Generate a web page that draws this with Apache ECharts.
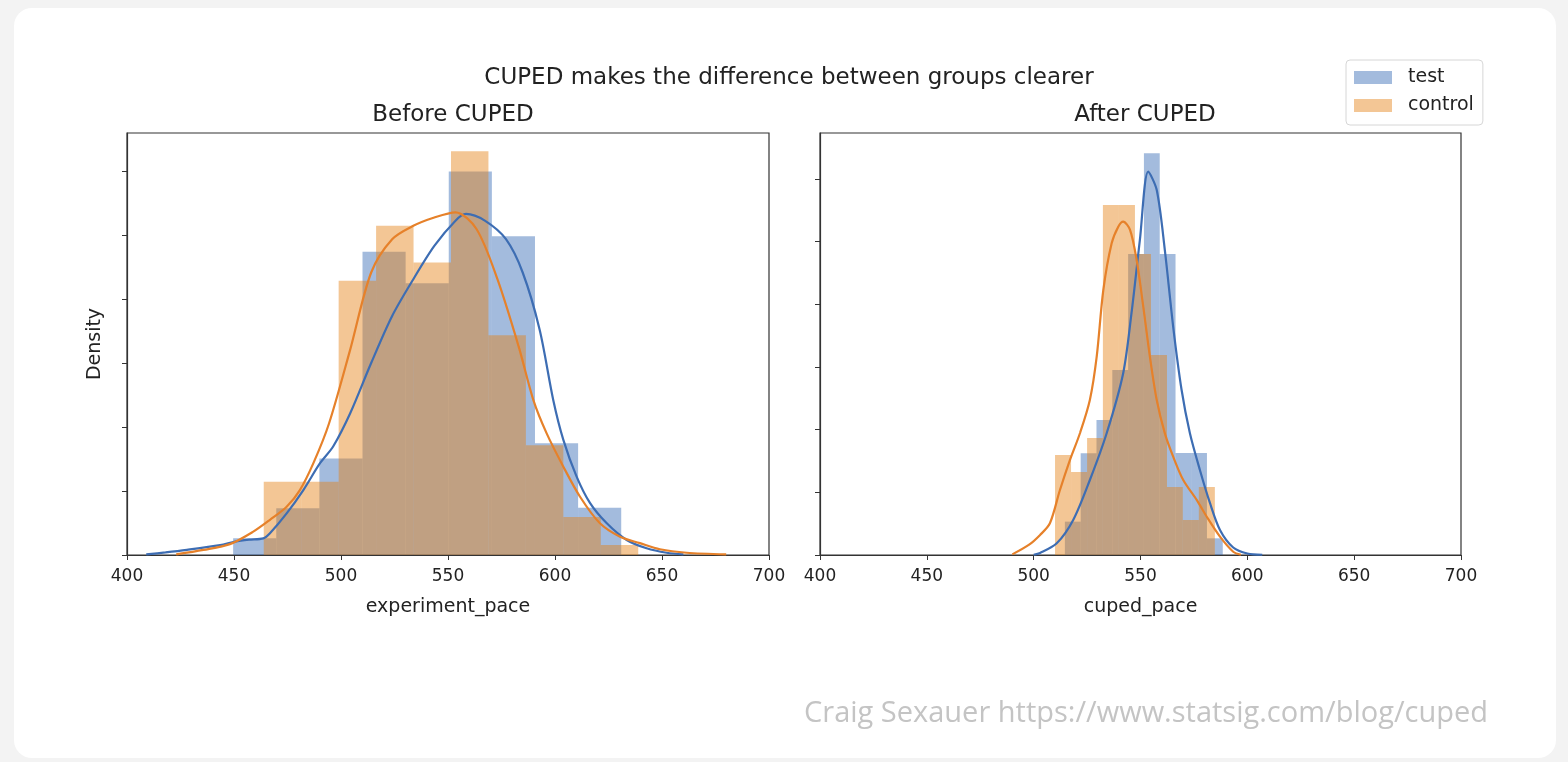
<!DOCTYPE html>
<html>
<head>
<meta charset="utf-8">
<title>CUPED</title>
<style>
  html, body { margin: 0; padding: 0; background: #f3f3f3; }
  #card { position: absolute; left: 14px; top: 8px; width: 1542px; height: 750px; background: #fff; border-radius: 18px; }
  #main { position: absolute; left: 0; top: 0; width: 1568px; height: 762px; }
</style>
</head>
<body>
<div id="card"></div>
<div id="main"></div>
<script src="https://cdn.jsdelivr.net/npm/echarts@6/dist/echarts.min.js"></script>
<script>
// histogram bin edges and densities
var beforeTestEdges = [449.6, 469.75, 489.9, 510.05, 530.2, 550.35, 570.5, 590.65, 610.8, 630.95];
var beforeTestDens = [0.00052, 0.00146, 0.00302, 0.00948, 0.00849, 0.01199, 0.00996, 0.00349, 0.00148];
var beforeCtrlEdges = [463.9, 481.4, 498.9, 516.4, 533.9, 551.4, 568.9, 586.4, 603.9, 621.4, 638.9];
var beforeCtrlDens = [0.00229, 0.00229, 0.00857, 0.01029, 0.00914, 0.01262, 0.00687, 0.00343, 0.00119, 0.00031];

var afterTestEdges = [514.6, 522.0, 529.4, 536.8, 544.2, 551.6, 559.0, 566.4, 573.7, 581.1, 588.5];
var afterTestDens = [0.00266, 0.00811, 0.01077, 0.01475, 0.0240, 0.03203, 0.0240, 0.00813, 0.00813, 0.00133];
var afterCtrlEdges = [510.0, 517.5, 525.0, 532.4, 539.9, 547.4, 554.9, 562.4, 569.8, 577.3, 584.8];
var afterCtrlDens = [0.00797, 0.00662, 0.00933, 0.0279, 0.0279, 0.0240, 0.01595, 0.00542, 0.00279, 0.00542];

// kde curves
var beforeTestKdeX = [409, 418, 428, 443.5, 450.5, 457, 463.7, 466.8, 474.6, 482.4, 490.2, 496.4, 504.3, 514.1, 523.9, 533.8, 543.6, 553.5, 558.4, 567.2, 577.1, 584.9, 592.8, 599.2, 603.9, 610.1, 616.4, 624.2, 633.5, 642.8, 652.2, 660];
var beforeTestKdeY = [0.00002, 0.00008, 0.00016, 0.00031, 0.00042, 0.00048, 0.00052, 0.00068, 0.0013, 0.00203, 0.00287, 0.0034, 0.00443, 0.006, 0.00747, 0.00862, 0.00966, 0.01045, 0.01066, 0.01045, 0.00987, 0.00883, 0.00705, 0.00484, 0.0036, 0.00245, 0.00162, 0.00099, 0.00047, 0.00021, 0.00007, 0.00002];
var beforeCtrlKdeX = [423, 435.7, 448.1, 459, 466.8, 474.6, 480.8, 487.1, 494.4, 504.3, 514.1, 523.9, 533.8, 543.6, 553.5, 563.3, 573.1, 583, 589.9, 596.1, 603.9, 611.7, 621, 630.4, 639.7, 649, 661.5, 680];
var beforeCtrlKdeY = [0.00002, 0.00016, 0.00034, 0.00073, 0.0011, 0.00151, 0.00203, 0.00287, 0.00411, 0.00642, 0.00883, 0.00987, 0.01029, 0.01055, 0.01071, 0.01019, 0.00862, 0.00652, 0.00484, 0.0038, 0.00276, 0.00182, 0.00099, 0.00057, 0.00037, 0.00018, 0.00007, 0.00002];

var afterTestKdeX = [500, 503, 510.8, 518.5, 526.3, 534.2, 541.9, 545.8, 549.7, 553.6, 557.6, 561.4, 565.3, 569.2, 573.1, 577.8, 582.5, 587.2, 593.4, 600, 607];
var afterTestKdeY = [0.00002, 0.00016, 0.00093, 0.00279, 0.00598, 0.00973, 0.0145, 0.0193, 0.0251, 0.03057, 0.0291, 0.0243, 0.0182, 0.0132, 0.00973, 0.00678, 0.00415, 0.002, 0.0006, 0.00012, 0.00002];
var afterCtrlKdeX = [490, 497.7, 503, 507.6, 512.3, 517, 521.7, 526.3, 529.5, 532.6, 536.5, 539.6, 541.9, 545.1, 548.2, 551.3, 554.4, 557.6, 561.4, 565.3, 570, 576.3, 581, 587.2, 593.4, 597];
var afterCtrlKdeY = [0.00005, 0.0008, 0.0016, 0.00253, 0.00518, 0.00758, 0.00973, 0.01236, 0.01581, 0.02113, 0.02485, 0.02618, 0.02658, 0.02592, 0.02352, 0.0198, 0.01581, 0.01236, 0.0097, 0.00784, 0.00598, 0.00439, 0.00305, 0.00146, 0.00026, 0.00002];

var xTicks = [400, 450, 500, 550, 600, 650, 700];
var beforeYTicks = [0, 0.002, 0.004, 0.006, 0.008, 0.010, 0.012];
var afterYTicks = [0, 0.005, 0.010, 0.015, 0.020, 0.025, 0.030];

var blueLine = '#3d6db3';
var orangeLine = '#e6812a';
var blueFill = 'rgba(50,105,180,0.45)';
var orangeFill = 'rgba(228,128,20,0.45)';
var font = 'DejaVu Sans';

function bins(edges, dens) {
    var out = [];
    for (var i = 0; i < dens.length; i++) out.push([edges[i], edges[i + 1], dens[i]]);
    return out;
}
function pairs(xs, ys) {
    return xs.map(function (x, i) { return [x, ys[i]]; });
}
function histRender(color) {
    return function (params, api) {
        var a = api.coord([api.value(0), api.value(2)]);
        var b = api.coord([api.value(1), 0]);
        return {
            type: 'rect',
            shape: { x: a[0], y: a[1], width: b[0] - a[0], height: b[1] - a[1] },
            style: { fill: color }
        };
    };
}
function hist(name, idx, data, color) {
    return {
        name: name, type: 'custom', xAxisIndex: idx, yAxisIndex: idx,
        renderItem: histRender(color), itemStyle: { color: color },
        encode: { x: [0, 1], y: 2 }, data: data, z: 1, silent: true
    };
}
function kde(name, idx, data, color) {
    return {
        name: name, type: 'line', xAxisIndex: idx, yAxisIndex: idx,
        data: data, smooth: 0.3, symbol: 'none', z: 3, silent: true,
        lineStyle: { color: color, width: 2.2 }, itemStyle: { color: color }
    };
}
function xAx(idx, name) {
    return {
        type: 'value', gridIndex: idx, min: xTicks[0], max: xTicks[xTicks.length - 1], interval: 50,
        name: name, nameLocation: 'middle', nameGap: 43,
        nameTextStyle: { fontFamily: font, fontSize: 19, color: '#222' },
        axisLine: { show: true, lineStyle: { color: '#333', width: 1.2 } },
        axisTick: { show: true, length: 5, lineStyle: { color: '#333', width: 1 } },
        axisLabel: { fontFamily: font, fontSize: 17, color: '#222', margin: 13 },
        splitLine: { show: false }
    };
}
function yAx(idx, max, ticks, name) {
    return {
        type: 'value', gridIndex: idx, min: 0, max: max, interval: ticks[1],
        name: name, nameLocation: 'middle', nameGap: 22, nameRotate: 90,
        nameTextStyle: { fontFamily: font, fontSize: 19, color: '#222' },
        axisLine: { show: true, lineStyle: { color: '#333', width: 1.2 } },
        axisTick: { show: true, length: 5, customValues: ticks, lineStyle: { color: '#333', width: 1 } },
        axisLabel: { show: false },
        splitLine: { show: false }
    };
}

var chart = echarts.init(document.getElementById('main'), null, { renderer: 'canvas' });
chart.setOption({
    backgroundColor: 'transparent',
    animation: false,
    title: [
        { text: 'CUPED makes the difference between groups clearer', left: 784, textAlign: 'center', top: 62,
          textStyle: { fontFamily: font, fontSize: 23, fontWeight: 'normal', color: '#222' } },
        { text: 'Before CUPED', left: 448, textAlign: 'center', top: 99,
          textStyle: { fontFamily: font, fontSize: 23, fontWeight: 'normal', color: '#222' } },
        { text: 'After CUPED', left: 1140, textAlign: 'center', top: 99,
          textStyle: { fontFamily: font, fontSize: 23, fontWeight: 'normal', color: '#222' } }
    ],
    legend: {
        data: ['test', 'control'], orient: 'vertical', left: 1346, top: 60,
        itemWidth: 38, itemHeight: 13, itemGap: 9, icon: 'rect',
        padding: [8, 9, 10, 8],
        backgroundColor: '#fff', borderColor: '#d6d6d6', borderWidth: 1, borderRadius: 4,
        textStyle: { fontFamily: font, fontSize: 19, color: '#222', padding: [0, 0, 0, 11] }
    },
    grid: [
        { left: 127, top: 133, width: 642, height: 422, show: true, borderColor: '#333', borderWidth: 1.2 },
        { left: 820, top: 133, width: 641, height: 422, show: true, borderColor: '#333', borderWidth: 1.2 }
    ],
    xAxis: [xAx(0, 'experiment_pace'), xAx(1, 'cuped_pace')],
    yAxis: [yAx(0, 0.01319, beforeYTicks, 'Density'), yAx(1, 0.03365, afterYTicks, '')],
    graphic: [{
        type: 'text', right: 80, top: 699,
        style: { text: 'Craig Sexauer https://www.statsig.com/blog/cuped', fill: '#c4c4c4', font: '29px "Open Sans"' }
    }],
    series: [
        hist('test', 0, bins(beforeTestEdges, beforeTestDens), blueFill),
        hist('control', 0, bins(beforeCtrlEdges, beforeCtrlDens), orangeFill),
        hist('test', 1, bins(afterTestEdges, afterTestDens), blueFill),
        hist('control', 1, bins(afterCtrlEdges, afterCtrlDens), orangeFill),
        kde('test kde', 0, pairs(beforeTestKdeX, beforeTestKdeY), blueLine),
        kde('control kde', 0, pairs(beforeCtrlKdeX, beforeCtrlKdeY), orangeLine),
        kde('test kde', 1, pairs(afterTestKdeX, afterTestKdeY), blueLine),
        kde('control kde', 1, pairs(afterCtrlKdeX, afterCtrlKdeY), orangeLine)
    ]
});
</script>
</body>
</html>
